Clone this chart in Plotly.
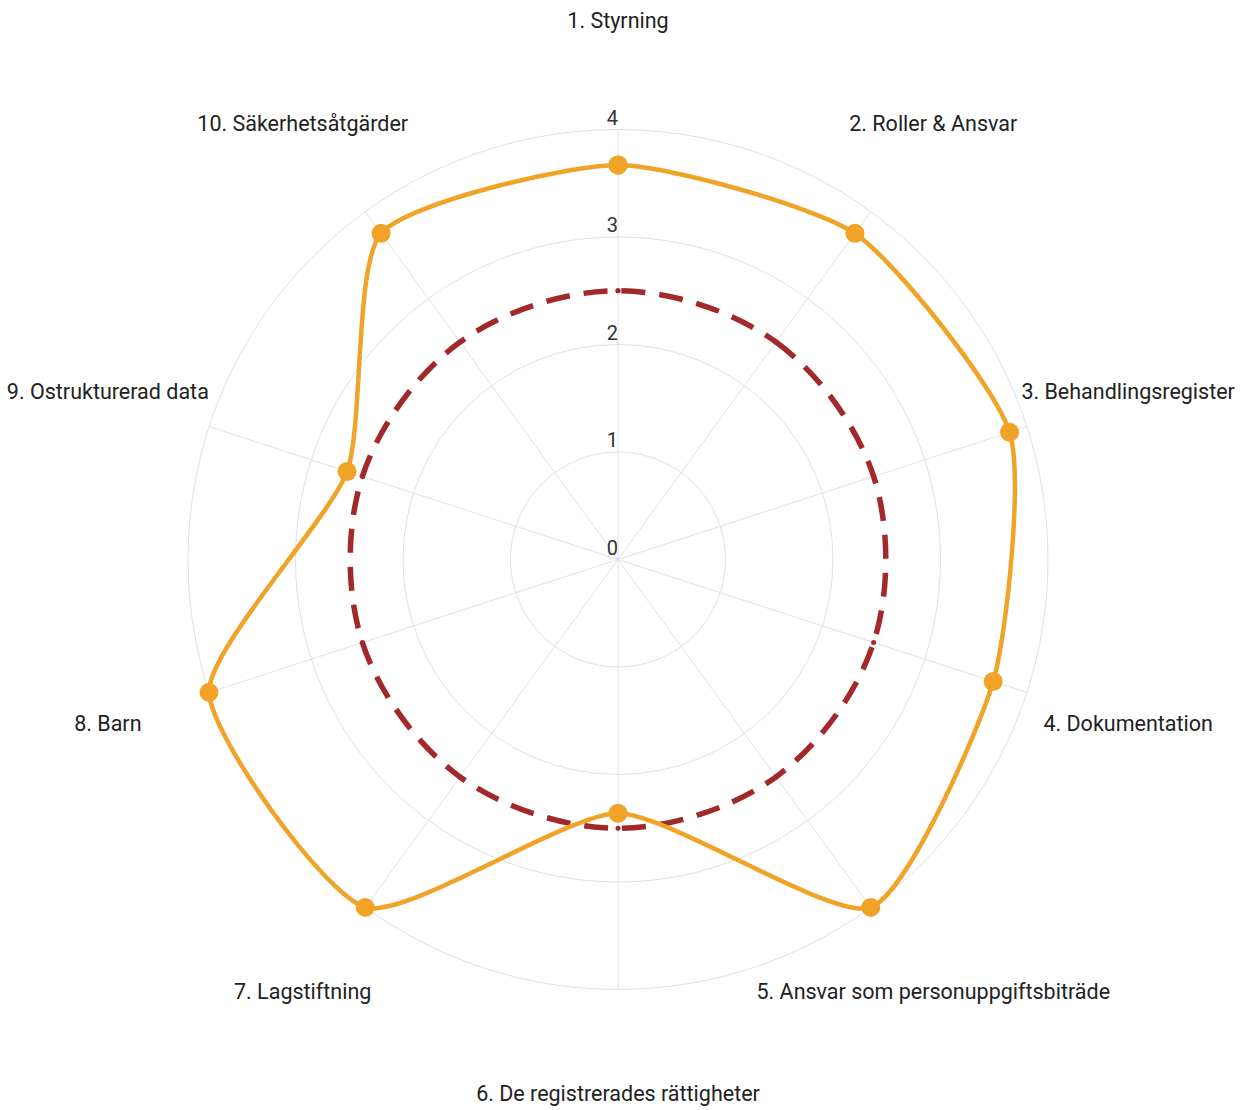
import plotly.graph_objects as go

categories = [
    "1. Styrning",
    "2. Roller & Ansvar",
    "3. Behandlingsregister",
    "4. Dokumentation",
    "5. Ansvar som personuppgiftsbiträde",
    "6. De registrerades rättigheter",
    "7. Lagstiftning",
    "8. Barn",
    "9. Ostrukturerad data",
    "10. Säkerhetsåtgärder",
]
scores = [3.67, 3.75, 3.83, 3.67, 4.0, 2.36, 4.0, 4.0, 2.65, 3.75]
target = [2.5, 2.5, 2.5, 2.5, 2.5, 2.5, 2.5, 2.5, 2.5, 2.5]
radial_ticks = [0, 1, 2, 3, 4]
radial_tick_labels = ["0", "1", "2", "3", "4"]
scale_max = 4
label_radius = 4.99
outer_range = 5.0

ORANGE = "#F0A326"
RED = "#A3282A"
GRID = "#dde1e7"
TEXT = "#222222"
FONT = "Roboto"

fig = go.Figure()

# spokes from centre to the outer ring (r = scale_max)
spoke_r, spoke_theta = [], []
for c in categories:
    spoke_r += [0, scale_max, None]
    spoke_theta += [c, c, None]
fig.add_trace(go.Scatterpolar(
    r=spoke_r, theta=spoke_theta, mode="lines",
    line=dict(color=GRID, width=1), hoverinfo="skip", connectgaps=False,
))

# dashed target line
fig.add_trace(go.Scatterpolar(
    r=target + target[:1],
    theta=categories + categories[:1],
    mode="lines+markers",
    line=dict(color=RED, width=5.5, dash="24px,14px", shape="spline", smoothing=1.0),
    marker=dict(size=5, color=RED),
    hoverinfo="skip",
))

# score line
fig.add_trace(go.Scatterpolar(
    r=scores + scores[:1],
    theta=categories + categories[:1],
    mode="lines+markers",
    line=dict(color=ORANGE, width=4.5, shape="spline", smoothing=0.6),
    marker=dict(size=19, color=ORANGE),
))

# category labels
fig.add_trace(go.Scatterpolar(
    r=[label_radius] * len(categories),
    theta=categories,
    mode="text",
    text=categories,
    textposition="middle center",
    textfont=dict(family=FONT, size=21.5, color=TEXT),
    cliponaxis=False,
    hoverinfo="skip",
))

# radial tick labels
fig.add_trace(go.Scatterpolar(
    r=radial_ticks,
    theta=[categories[0]] * len(radial_ticks),
    mode="text",
    text=radial_tick_labels,
    textposition="top left",
    textfont=dict(family=FONT, size=20, color="#333333"),
    cliponaxis=False,
    hoverinfo="skip",
))

fig.update_layout(
    width=1240,
    height=1110,
    paper_bgcolor="white",
    plot_bgcolor="white",
    showlegend=False,
    margin=dict(l=80, r=84, t=22, b=13),
    font=dict(family=FONT, size=20, color=TEXT),
    polar=dict(
        bgcolor="white",
        radialaxis=dict(
            range=[0, outer_range],
            tickvals=[1, 2, 3, 4],
            showticklabels=False,
            ticks="",
            showline=False,
            gridcolor=GRID,
            gridwidth=1,
        ),
        angularaxis=dict(
            direction="clockwise",
            rotation=90,
            showticklabels=False,
            ticks="",
            showline=False,
            showgrid=False,
        ),
    ),
)

fig.write_html(
    "out.html",
    config={"displayModeBar": False},
    post_script="document.body.style.margin='0';document.body.style.overflow='hidden';",
)
